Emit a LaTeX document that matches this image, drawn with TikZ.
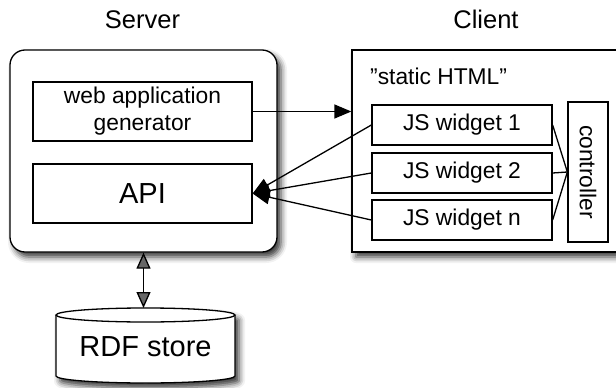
\documentclass[tikz,border=0pt]{standalone}
\usepackage{fontspec}
\setmainfont{Liberation Sans}
\usetikzlibrary{arrows.meta,shadows.blur}

\tikzset{
  box/.style={draw, line width=1.3pt, fill=white, inner sep=0pt},
  boxshadow/.style={blur shadow={shadow xshift=4pt, shadow yshift=-5pt,
      shadow blur radius=6pt, shadow opacity=80}},
  txtS/.style={font=\fontsize{22.8}{27}\selectfont},
  txtL/.style={font=\fontsize{29}{34}\selectfont},
  title/.style={font=\fontsize{25.5}{30}\selectfont, anchor=base},
  conn/.style={line width=1.3pt},
  arr/.style={conn, -{Triangle[length=17pt, width=14pt]}},
  darr/.style={conn, {Triangle[length=16pt, width=14pt]}-{Triangle[length=16pt, width=14pt]}},
}

\begin{document}
\begin{tikzpicture}[x=1pt, y=-1pt]
  \useasboundingbox (0,0) rectangle (616,388);

  % column titles
  \node[title] (servertitle) at (142.5,28) {Server};
  \node[title] (clienttitle) at (486,28) {Client};

  % server side
  \node[box, boxshadow, rounded corners=15pt, minimum width=267pt, minimum height=202pt]
    (server) at (143.5,151) {};
  \node[box, txtS, align=center, minimum width=219pt, minimum height=59pt]
    (webgen) at (142.5,111.5) {web application\\generator};
  \node[box, txtL, minimum width=219pt, minimum height=59pt]
    (api) at (142.5,193.5) {API};

  % client side
  \node[box, boxshadow, minimum width=270pt, minimum height=202pt]
    (client) at (487,151) {};
  \node[txtS, anchor=base west, inner sep=0pt] (static) at (370,84)
    {\symbol{34}static HTML\symbol{34}};
  \node[box, txtS, minimum width=180pt, minimum height=40pt] (w1) at (462,125) {JS widget 1};
  \node[box, txtS, minimum width=180pt, minimum height=40pt] (w2) at (462,173) {JS widget 2};
  \node[box, txtS, minimum width=180pt, minimum height=40pt] (wn) at (462,220) {JS widget n};
  \node[box, minimum width=40pt, minimum height=140pt] (ctrl) at (588,172) {};
  \node[txtS, rotate=-90] (ctrltext) at (ctrl.center) {controller};

  % widgets to controller
  \draw[conn] (w1.east) -- (ctrl.west);
  \draw[conn] (w2.east) -- (ctrl.west);
  \draw[conn] (wn.east) -- (ctrl.west);

  % generator delivers the page, widgets call the API
  \draw[arr] (webgen.east) -- (webgen.east -| client.west);
  \draw[arr] (w1.west) -- (api.east);
  \draw[arr] (w2.west) -- (api.east);
  \draw[arr] (wn.west) -- (api.east);

  % RDF store cylinder
  \path[fill=white, boxshadow]
    (56,315) -- (56,376) arc[start angle=180, end angle=0, x radius=89.5, y radius=7]
    -- (235,315) arc[start angle=0, end angle=-180, x radius=89.5, y radius=7] -- cycle;
  \draw[line width=1.3pt]
    (56,315) -- (56,376) arc[start angle=180, end angle=0, x radius=89.5, y radius=7]
    -- (235,315);
  \draw[line width=1.3pt] (145.5,315) ellipse[x radius=89.5, y radius=7];
  \coordinate (rdftop) at (143.5,308);
  \node[txtL] (rdf) at (145.5,347) {RDF store};

  \draw[darr] (server.south) -- (rdftop);
\end{tikzpicture}
\end{document}
